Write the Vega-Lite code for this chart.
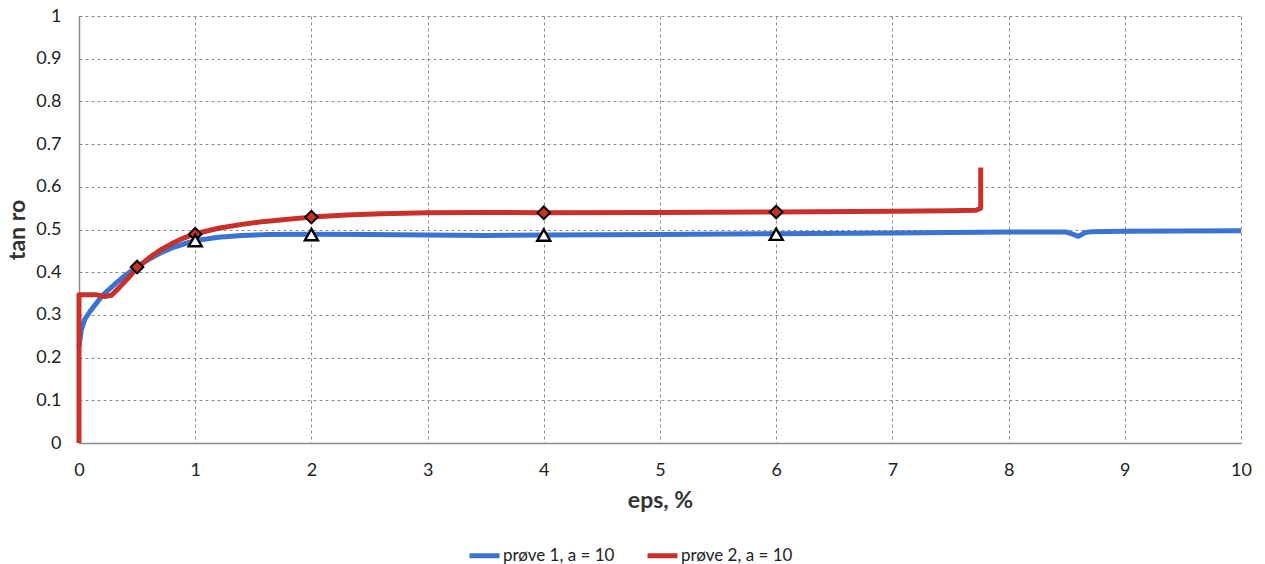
{
  "$schema": "https://vega.github.io/schema/vega-lite/v6.json",
  "width": 1162,
  "height": 427,
  "autosize": "none",
  "padding": {"left": 79, "top": 16, "right": 24, "bottom": 121},
  "background": "white",
  "config": {
    "font": "Lato",
    "view": {"stroke": null},
    "axis": {
      "grid": true,
      "gridColor": "#8a8a8a",
      "gridDash": [3, 3],
      "gridWidth": 1,
      "ticks": false,
      "domainColor": "#8c8c8c",
      "domainWidth": 1.5,
      "labelFont": "Lato",
      "labelFontSize": 18,
      "labelColor": "#222",
      "labelFlush": false,
      "labelOverlap": false,
      "format": "~g",
      "titleFont": "Lato",
      "titleFontSize": 23,
      "titleFontWeight": "bold",
      "titleColor": "#333"
    }
  },
  "datasets": {
    "curves": [
      {"serie": "prøve 1, a = 10", "i": 1, "eps": 0.0, "tan": 0.225},
      {"serie": "prøve 1, a = 10", "i": 2, "eps": 0.02, "tan": 0.265},
      {"serie": "prøve 1, a = 10", "i": 3, "eps": 0.05, "tan": 0.29},
      {"serie": "prøve 1, a = 10", "i": 4, "eps": 0.1, "tan": 0.31},
      {"serie": "prøve 1, a = 10", "i": 5, "eps": 0.2, "tan": 0.345},
      {"serie": "prøve 1, a = 10", "i": 6, "eps": 0.3, "tan": 0.37},
      {"serie": "prøve 1, a = 10", "i": 7, "eps": 0.4, "tan": 0.393},
      {"serie": "prøve 1, a = 10", "i": 8, "eps": 0.5, "tan": 0.413},
      {"serie": "prøve 1, a = 10", "i": 9, "eps": 0.6, "tan": 0.43},
      {"serie": "prøve 1, a = 10", "i": 10, "eps": 0.7, "tan": 0.445},
      {"serie": "prøve 1, a = 10", "i": 11, "eps": 0.8, "tan": 0.457},
      {"serie": "prøve 1, a = 10", "i": 12, "eps": 0.9, "tan": 0.466},
      {"serie": "prøve 1, a = 10", "i": 13, "eps": 1.0, "tan": 0.474},
      {"serie": "prøve 1, a = 10", "i": 14, "eps": 1.2, "tan": 0.482},
      {"serie": "prøve 1, a = 10", "i": 15, "eps": 1.4, "tan": 0.486},
      {"serie": "prøve 1, a = 10", "i": 16, "eps": 1.6, "tan": 0.488},
      {"serie": "prøve 1, a = 10", "i": 17, "eps": 2.0, "tan": 0.489},
      {"serie": "prøve 1, a = 10", "i": 18, "eps": 2.5, "tan": 0.488},
      {"serie": "prøve 1, a = 10", "i": 19, "eps": 3.0, "tan": 0.487},
      {"serie": "prøve 1, a = 10", "i": 20, "eps": 3.5, "tan": 0.486},
      {"serie": "prøve 1, a = 10", "i": 21, "eps": 4.0, "tan": 0.487},
      {"serie": "prøve 1, a = 10", "i": 22, "eps": 5.0, "tan": 0.488},
      {"serie": "prøve 1, a = 10", "i": 23, "eps": 6.0, "tan": 0.49},
      {"serie": "prøve 1, a = 10", "i": 24, "eps": 7.0, "tan": 0.492},
      {"serie": "prøve 1, a = 10", "i": 25, "eps": 8.0, "tan": 0.494},
      {"serie": "prøve 1, a = 10", "i": 26, "eps": 8.5, "tan": 0.494},
      {"serie": "prøve 1, a = 10", "i": 27, "eps": 8.55, "tan": 0.489},
      {"serie": "prøve 1, a = 10", "i": 28, "eps": 8.6, "tan": 0.484},
      {"serie": "prøve 1, a = 10", "i": 29, "eps": 8.66, "tan": 0.493},
      {"serie": "prøve 1, a = 10", "i": 30, "eps": 8.72, "tan": 0.495},
      {"serie": "prøve 1, a = 10", "i": 31, "eps": 9.0, "tan": 0.496},
      {"serie": "prøve 1, a = 10", "i": 32, "eps": 10.0, "tan": 0.497},
      {"serie": "prøve 2, a = 10", "i": 1, "eps": 0.0, "tan": 0.0},
      {"serie": "prøve 2, a = 10", "i": 2, "eps": 0.0, "tan": 0.347},
      {"serie": "prøve 2, a = 10", "i": 3, "eps": 0.15, "tan": 0.347},
      {"serie": "prøve 2, a = 10", "i": 4, "eps": 0.22, "tan": 0.343},
      {"serie": "prøve 2, a = 10", "i": 5, "eps": 0.28, "tan": 0.346},
      {"serie": "prøve 2, a = 10", "i": 6, "eps": 0.35, "tan": 0.365},
      {"serie": "prøve 2, a = 10", "i": 7, "eps": 0.42, "tan": 0.385},
      {"serie": "prøve 2, a = 10", "i": 8, "eps": 0.5, "tan": 0.41},
      {"serie": "prøve 2, a = 10", "i": 9, "eps": 0.6, "tan": 0.433},
      {"serie": "prøve 2, a = 10", "i": 10, "eps": 0.7, "tan": 0.452},
      {"serie": "prøve 2, a = 10", "i": 11, "eps": 0.8, "tan": 0.467},
      {"serie": "prøve 2, a = 10", "i": 12, "eps": 0.9, "tan": 0.48},
      {"serie": "prøve 2, a = 10", "i": 13, "eps": 1.0, "tan": 0.49},
      {"serie": "prøve 2, a = 10", "i": 14, "eps": 1.2, "tan": 0.503},
      {"serie": "prøve 2, a = 10", "i": 15, "eps": 1.4, "tan": 0.512},
      {"serie": "prøve 2, a = 10", "i": 16, "eps": 1.6, "tan": 0.519},
      {"serie": "prøve 2, a = 10", "i": 17, "eps": 1.8, "tan": 0.524},
      {"serie": "prøve 2, a = 10", "i": 18, "eps": 2.0, "tan": 0.529},
      {"serie": "prøve 2, a = 10", "i": 19, "eps": 2.3, "tan": 0.534},
      {"serie": "prøve 2, a = 10", "i": 20, "eps": 2.6, "tan": 0.537},
      {"serie": "prøve 2, a = 10", "i": 21, "eps": 3.0, "tan": 0.539},
      {"serie": "prøve 2, a = 10", "i": 22, "eps": 3.5, "tan": 0.54},
      {"serie": "prøve 2, a = 10", "i": 23, "eps": 4.0, "tan": 0.539},
      {"serie": "prøve 2, a = 10", "i": 24, "eps": 5.0, "tan": 0.54},
      {"serie": "prøve 2, a = 10", "i": 25, "eps": 6.0, "tan": 0.541},
      {"serie": "prøve 2, a = 10", "i": 26, "eps": 7.0, "tan": 0.543},
      {"serie": "prøve 2, a = 10", "i": 27, "eps": 7.5, "tan": 0.544},
      {"serie": "prøve 2, a = 10", "i": 28, "eps": 7.72, "tan": 0.545},
      {"serie": "prøve 2, a = 10", "i": 29, "eps": 7.76, "tan": 0.55},
      {"serie": "prøve 2, a = 10", "i": 30, "eps": 7.76, "tan": 0.645}
    ],
    "diamonds": [
      {"eps": 0.5, "tan": 0.412},
      {"eps": 1.0, "tan": 0.489},
      {"eps": 2.0, "tan": 0.529},
      {"eps": 4.0, "tan": 0.539},
      {"eps": 6.0, "tan": 0.541}
    ],
    "triangles": [
      {"eps": 1.0, "tan": 0.474},
      {"eps": 2.0, "tan": 0.488},
      {"eps": 4.0, "tan": 0.487},
      {"eps": 6.0, "tan": 0.489}
    ]
  },
  "layer": [
    {
      "data": {"name": "curves"},
      "mark": {"type": "line", "strokeWidth": 5, "strokeJoin": "round", "strokeCap": "butt"},
      "encoding": {
        "x": {
          "field": "eps", "type": "quantitative",
          "scale": {"domain": [0, 10], "nice": false},
          "axis": {"title": "eps, %", "values": [0,1,2,3,4,5,6,7,8,9,10], "labelPadding": 18, "titlePadding": 10}
        },
        "y": {
          "field": "tan", "type": "quantitative",
          "scale": {"domain": [0, 1], "nice": false},
          "axis": {"title": "tan ro", "values": [0,0.1,0.2,0.3,0.4,0.5,0.6,0.7,0.8,0.9,1], "labelPadding": 18, "titlePadding": 6}
        },
        "order": {"field": "i", "type": "quantitative"},
        "color": {
          "field": "serie", "type": "nominal",
          "scale": {"domain": ["prøve 1, a = 10", "prøve 2, a = 10"], "range": ["#3a73d2", "#c9302a"]},
          "legend": {
            "title": null,
            "orient": "none",
            "direction": "horizontal",
            "legendX": 388,
            "legendY": 522,
            "symbolType": "stroke",
            "symbolSize": 900,
            "symbolStrokeWidth": 5,
            "labelFontSize": 17,
            "labelFont": "Lato",
            "labelColor": "#222",
            "labelOffset": 1,
            "columnPadding": 22
          }
        }
      }
    },
    {
      "data": {"name": "diamonds"},
      "mark": {"type": "point", "shape": "diamond", "filled": true, "fill": "#c9302a", "stroke": "black", "strokeWidth": 2, "size": 160, "opacity": 1},
      "encoding": {
        "x": {"field": "eps", "type": "quantitative"},
        "y": {"field": "tan", "type": "quantitative"}
      }
    },
    {
      "data": {"name": "triangles"},
      "mark": {"type": "point", "shape": "triangle-up", "filled": true, "fill": "white", "stroke": "black", "strokeWidth": 2.4, "size": 170, "opacity": 1},
      "encoding": {
        "x": {"field": "eps", "type": "quantitative"},
        "y": {"field": "tan", "type": "quantitative"}
      }
    }
  ]
}
